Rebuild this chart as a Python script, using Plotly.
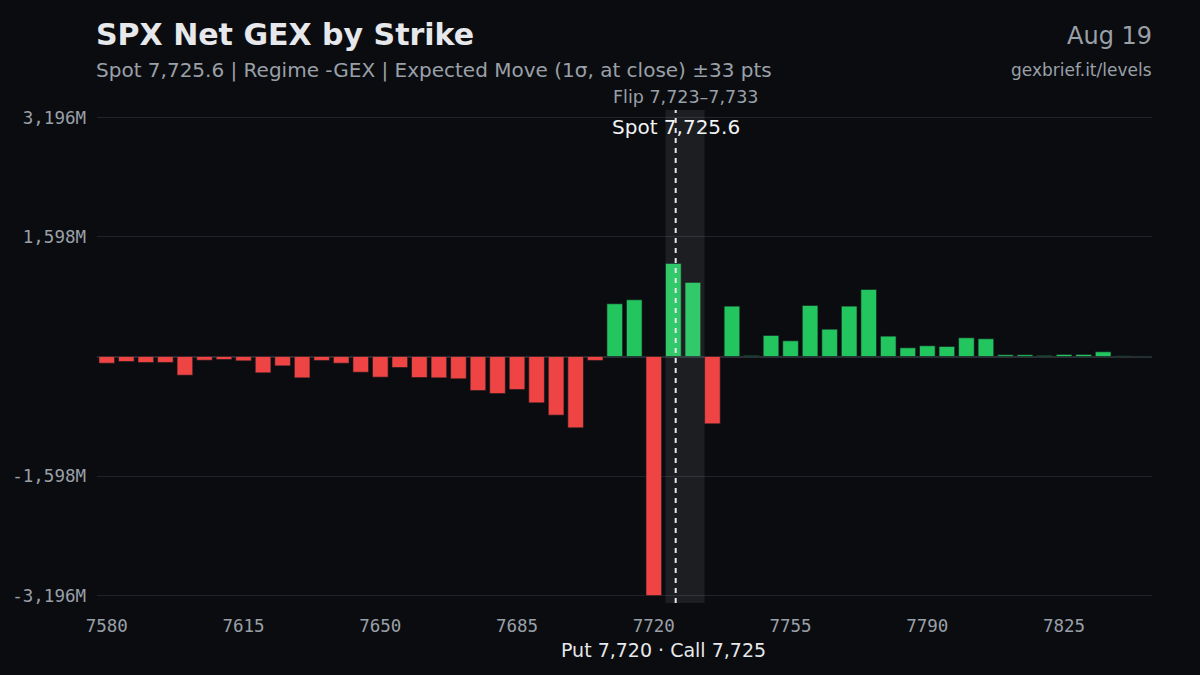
"""
SPX net gamma exposure by strike - dark theme bar chart
"""

import plotly.graph_objects as go

# strikes (5-pt spacing) and net GEX in $M
strikes = list(range(7580, 7850, 5))
net_gex = [
    -90, -67, -80, -80, -250, -50, -40, -58, -218, -125,
    -285, -53, -90, -210, -276, -147, -281, -285, -298, -455,
    -495, -441, -619, -784, -954, -53, 705, 758, -3196, 1243,
    990, -900, 673, 12, 281, 210, 682, 365, 673, 896,
    272, 116, 143, 134, 250, 237, 23, 23, 13, 27,
    27, 63, 8, 6,
]

y_ticks = [-3196, -1598, 1598, 3196]
y_tick_text = ["-3,196M", "-1,598M", "1,598M", "3,196M"]
x_ticks = [7580, 7615, 7650, 7685, 7720, 7755, 7790, 7825]

spot = 7725.6
flip_lo, flip_hi = 7723, 7733
put_wall, call_wall = 7720, 7725

BG = "#0b0c10"
RED = "#ef4444"
GREEN = "#22c55e"
GRID = "#1f242b"
MUTED = "#9aa0a8"
TEXT = "#e6e8eb"

colors = [GREEN if v >= 0 else RED for v in net_gex]

fig = go.Figure()

fig.add_trace(
    go.Bar(
        x=strikes,
        y=net_gex,
        width=4,
        marker=dict(color=colors, line=dict(color="#15181d", width=0.6)),
        hovertemplate="Strike %{x}<br>%{y:,.0f}M<extra></extra>",
    )
)

# flip zone shading (drawn above bars, semi-transparent)
fig.add_shape(
    type="rect", xref="x", yref="paper",
    x0=flip_lo, x1=flip_hi, y0=0, y1=1,
    fillcolor="rgba(255,255,255,0.075)", line=dict(width=0), layer="above",
)

# spot line
fig.add_shape(
    type="line", xref="x", yref="paper",
    x0=spot, x1=spot, y0=0, y1=1,
    line=dict(color="#e6e8eb", width=2, dash="5px,5px"), layer="above",
)

fig.add_annotation(
    x=spot, y=0.965, xref="x", yref="paper",
    text="Spot 7,725.6", showarrow=False,
    font=dict(family="DejaVu Sans", size=20, color="#f2f3f5"),
    xanchor="center", yanchor="middle",
)
fig.add_annotation(
    x=(flip_lo + flip_hi) / 2, y=1.0, xref="x", yref="paper",
    text="Flip 7,723–7,733", showarrow=False,
    font=dict(family="DejaVu Sans", size=17.5, color=MUTED),
    xanchor="center", yanchor="bottom", yshift=1,
)
fig.add_annotation(
    x=(put_wall + call_wall) / 2, y=-0.095, xref="x", yref="paper",
    text="Put 7,720 · Call 7,725", showarrow=False,
    font=dict(family="DejaVu Sans", size=19, color=TEXT),
    xanchor="center", yanchor="middle",
)

# header texts (positions given in pixels, converted below)
fig.add_annotation(
    x=94, y=34, text="<b>SPX Net GEX by Strike</b>",
    showarrow=False, xanchor="left", yanchor="middle",
    font=dict(family="DejaVu Sans", size=30, color=TEXT),
)
fig.add_annotation(
    x=94, y=70, text="Spot 7,725.6 | Regime -GEX | Expected Move (1σ, at close) ±33 pts",
    showarrow=False, xanchor="left", yanchor="middle",
    font=dict(family="DejaVu Sans", size=20, color=MUTED),
)
fig.add_annotation(
    x=1154, y=36, text="Aug 19",
    showarrow=False, xanchor="right", yanchor="middle",
    font=dict(family="DejaVu Sans", size=24, color=MUTED),
)
fig.add_annotation(
    x=1154, y=70, text="gexbrief.it/levels",
    showarrow=False, xanchor="right", yanchor="middle",
    font=dict(family="DejaVu Sans", size=17, color=MUTED),
)

W, H = 1200, 675
ML, MR, MT, MB = 97, 48, 110, 72
pw, ph = W - ML - MR, H - MT - MB
for ann in fig.layout.annotations[3:]:
    ann.xref = "paper"
    ann.yref = "paper"
    ann.x = (ann.x - ML) / pw
    ann.y = (H - MB - ann.y) / ph

y_max = max(abs(v) for v in net_gex) * 1.031

fig.update_layout(
    width=W, height=H,
    margin=dict(l=ML, r=MR, t=MT, b=MB, autoexpand=False),
    paper_bgcolor=BG, plot_bgcolor=BG,
    showlegend=False,
    font=dict(family="DejaVu Sans Mono", color=MUTED, size=17.5),
)
fig.update_xaxes(
    range=[7577.5, 7847.5], tickvals=x_ticks, showgrid=False, zeroline=False,
    showline=False, ticks="", ticklabelstandoff=10,
    tickfont=dict(family="DejaVu Sans Mono", size=17.5, color=MUTED),
)
fig.update_yaxes(
    range=[-y_max, y_max], tickvals=y_ticks, ticktext=y_tick_text,
    showgrid=True, gridcolor=GRID, gridwidth=1,
    zeroline=True, zerolinecolor="#2a2f37", zerolinewidth=1.5,
    ticks="", ticklabelstandoff=10,
    tickfont=dict(family="DejaVu Sans Mono", size=17.5, color=MUTED),
)

fig.write_html(
    "out.html",
    config={"displayModeBar": False},
    post_script="document.body.style.margin='0';",
)
